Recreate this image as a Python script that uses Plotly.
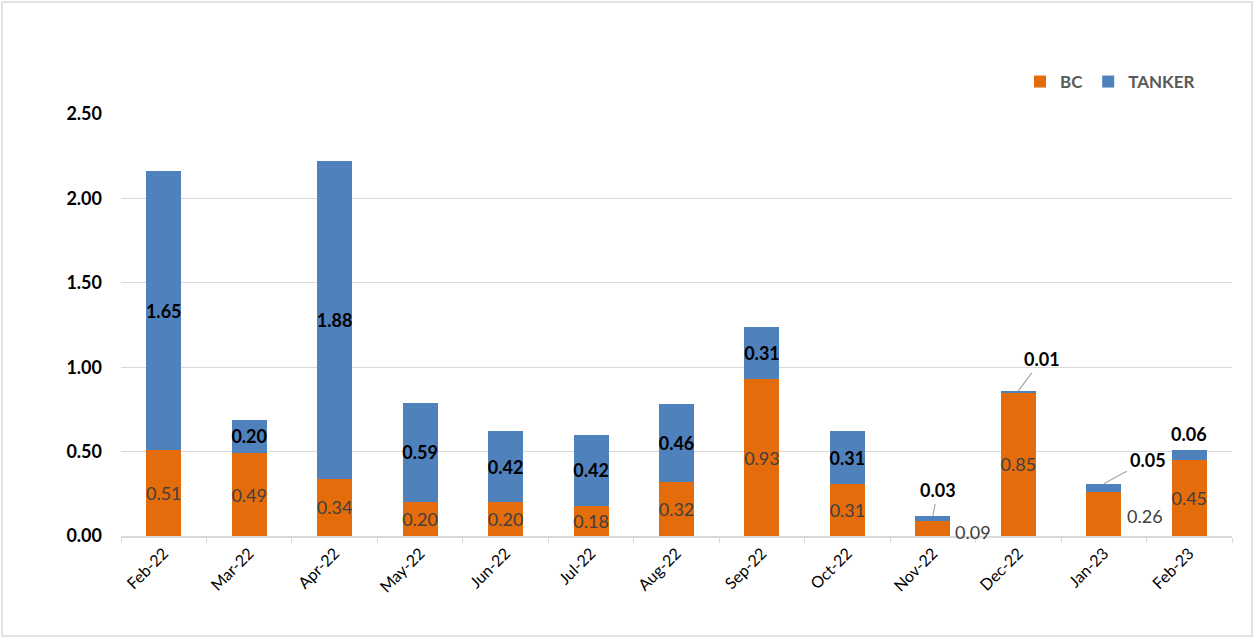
import plotly.graph_objects as go

months = ["Feb-22", "Mar-22", "Apr-22", "May-22", "Jun-22", "Jul-22", "Aug-22",
          "Sep-22", "Oct-22", "Nov-22", "Dec-22", "Jan-23", "Feb-23"]
bc = [0.51, 0.49, 0.34, 0.20, 0.20, 0.18, 0.32, 0.93, 0.31, 0.09, 0.85, 0.26, 0.45]
tanker = [1.65, 0.20, 1.88, 0.59, 0.42, 0.42, 0.46, 0.31, 0.31, 0.03, 0.01, 0.05, 0.06]
y_ticks = [0.0, 0.5, 1.0, 1.5, 2.0, 2.5]

ORANGE = "#E46C0A"
BLUE = "#4F81BD"
FONT = "Lato"
LBL = 18

# labels drawn outside the bars (style decisions)
bc_outside = {"Nov-22": dict(xshift=40, yshift=-4), "Jan-23": dict(xshift=41, yshift=-2)}
tk_outside = {
    "Nov-22": dict(showarrow=True, ax=5, ay=-26),
    "Dec-22": dict(showarrow=True, ax=24, ay=-32),
    "Jan-23": dict(showarrow=True, ax=44, ay=-24),
    "Feb-23": dict(showarrow=False, yanchor="bottom", yshift=3),
}

bc_text = ["" if m in bc_outside else f"{v:.2f}" for m, v in zip(months, bc)]
tk_text = ["" if m in tk_outside else f"{v:.2f}" for m, v in zip(months, tanker)]

fig = go.Figure()
fig.add_trace(go.Bar(
    x=months, y=bc, name="BC", marker=dict(color=ORANGE, line=dict(width=0)),
    text=bc_text, textposition="inside", insidetextanchor="middle",
    constraintext="none", textangle=0,
    textfont=dict(family=FONT, size=LBL, color="#404040"),
    hoverinfo="x+y",
))
fig.add_trace(go.Bar(
    x=months, y=tanker, name="TANKER", marker=dict(color=BLUE, line=dict(width=0)),
    text=tk_text, textposition="inside", insidetextanchor="middle",
    constraintext="none", textangle=0,
    textfont=dict(family=FONT, size=LBL, color="#000000", weight="bold"),
    hoverinfo="x+y",
))

annotations = []
for i, m in enumerate(months):
    if m in bc_outside:
        o = bc_outside[m]
        annotations.append(dict(
            x=m, y=bc[i] / 2, text=f"{bc[i]:.2f}", showarrow=False,
            xshift=o["xshift"], yshift=o["yshift"],
            font=dict(family=FONT, size=LBL, color="#404040"),
        ))
    if m in tk_outside:
        o = tk_outside[m]
        top = bc[i] + tanker[i]
        a = dict(x=m, y=top, text=f"{tanker[i]:.2f}",
                 font=dict(family=FONT, size=LBL, color="#000000", weight="bold"))
        if o["showarrow"]:
            a.update(showarrow=True, ax=o["ax"], ay=o["ay"], arrowhead=0,
                     arrowwidth=1.2, arrowcolor="#A6A6A6", standoff=0, startstandoff=2)
        else:
            a.update(showarrow=False, yanchor=o["yanchor"], yshift=o["yshift"])
        annotations.append(a)

W, H = 1259, 639
L, R, T, B = 121, 27, 114, 103
pw, ph = W - L - R, H - T - B

def px_x(x):
    return (x - L) / pw

def px_y(y):
    return (H - B - y) / ph

fig.update_layout(
    width=W, height=H,
    margin=dict(l=L, r=R, t=T, b=B, pad=0),
    barmode="stack",
    bargap=0.59,
    plot_bgcolor="white", paper_bgcolor="white",
    font=dict(family=FONT, color="#000000"),
    showlegend=True,
    legend=dict(orientation="h", x=px_x(1020), y=px_y(82), xanchor="left", yanchor="middle",
                font=dict(family=FONT, size=17, color="#595959", weight="bold"),
                itemwidth=30, traceorder="normal", bgcolor="rgba(0,0,0,0)"),
    annotations=annotations,
    shapes=[dict(type="rect", xref="paper", yref="paper",
                 x0=px_x(2), x1=px_x(1252), y0=px_y(636), y1=px_y(2),
                 line=dict(color="#D9D9D9", width=1.5), fillcolor="rgba(0,0,0,0)", layer="below")],
    xaxis=dict(
        type="category", tickangle=-45, tickson="boundaries", ticks="outside",
        ticklen=5, tickcolor="#D9D9D9", showline=True, linecolor="#D9D9D9", linewidth=1.5,
        showgrid=False, tickfont=dict(family=FONT, size=16, color="#000000"),
    ),
    yaxis=dict(
        range=[0, 2.5], tickvals=y_ticks, ticktext=[f"{v:.2f}" for v in y_ticks],
        showgrid=True, gridcolor="#D9D9D9", gridwidth=1.2, zeroline=False, showline=False,
        ticks="", ticklabelstandoff=18,
        tickfont=dict(family=FONT, size=18, color="#000000", weight="bold"),
    ),
)

fig.write_html("out.html", config={"displayModeBar": False},
               post_script="document.body.style.margin='0px';")
